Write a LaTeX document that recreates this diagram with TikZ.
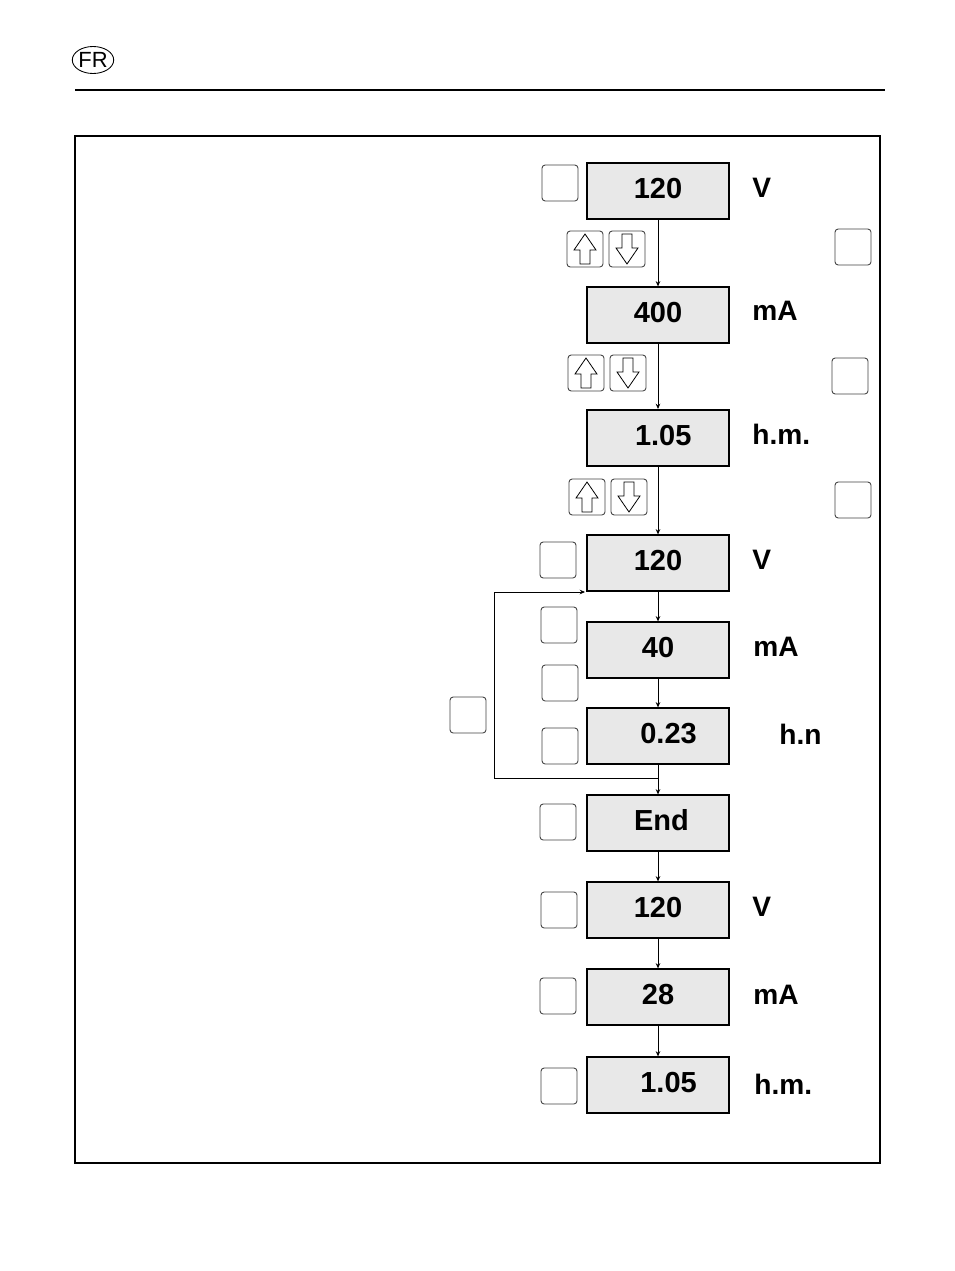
\documentclass[tikz,border=0pt]{standalone}
\usepackage{fontspec}
\setmainfont{Liberation Sans}
\usetikzlibrary{arrows.meta, positioning, shapes.geometric}
\definecolor{lcdgray}{HTML}{E8E8E8}
\tikzset{
  disp/.style={draw, fill=lcdgray, line width=0.7pt, minimum width=2.84cm, minimum height=1.12cm, inner sep=0pt, text height=11.5pt, text depth=2.5pt, font=\fontsize{16.5}{16.5}\selectfont\bfseries},
  unit/.style={anchor=west, inner sep=0pt, font=\fontsize{16}{16}\selectfont\bfseries},
  btn/.style={draw=black!75, rounded corners=1.8pt, line width=0.5pt, minimum size=0.72cm, inner sep=0pt},
  flow/.style={line width=0.45pt, -{Stealth[length=3pt, width=2.6pt]}},
  upkey/.pic={
    \node[btn] (-box) {};
    \draw[line width=0.45pt] (0,-15) -- (11,1) -- (5,1) -- (5,15) -- (-5,15) -- (-5,1) -- (-11,1) -- cycle;
  },
  downkey/.pic={
    \node[btn] (-box) {};
    \draw[line width=0.45pt] (0,15) -- (11,-1) -- (5,-1) -- (5,-15) -- (-5,-15) -- (-5,-1) -- (-11,-1) -- cycle;
  }
}
\begin{document}
\begin{tikzpicture}[x=0.02cm, y=-0.02cm]
  \useasboundingbox (0,0) rectangle (954,1271);
  % header
  \node[draw, ellipse, minimum width=0.74cm, minimum height=0.54cm, inner sep=0pt, line width=0.5pt, font=\fontsize{12.5}{12.5}\selectfont] (lang) at (93,60) {FR};
  \draw[line width=0.6pt] (75,90) -- (885,90);
  \draw[line width=0.8pt] (75,136) rectangle (880,1163);

  % displays
  \node[disp] (d1) at (658,191) {120};
  \node[disp] (d2) at (658,315) {400};
  \node[disp, line width=1.2pt] (d3) at (658,438) {\hspace{6pt}1.05};
  \node[disp] (d4) at (658,563) {120};
  \node[disp] (d5) at (658,650) {40};
  \node[disp] (d6) at (658,736) {\hspace{12pt}0.23};
  \node[disp] (d7) at (658,823) {\hspace{4pt}End};
  \node[disp] (d8) at (658,910) {120};
  \node[disp] (d9) at (658,997) {28};
  \node[disp] (d10) at (658,1085) {\hspace{12pt}1.05};

  % units
  \node[unit] (u1) at (752,188) {V};
  \node[unit] (u2) at (752,311) {mA};
  \node[unit] (u3) at (752,434) {h.m.};
  \node[unit] (u4) at (752,560) {V};
  \node[unit] (u5) at (753,647) {mA};
  \node[unit] (u6) at (779,734) {h.n};
  \node[unit] (u8) at (752,907) {V};
  \node[unit] (u9) at (753,995) {mA};
  \node[unit] (u10) at (754,1084) {h.m.};

  % buttons
  \foreach \n/\x/\y in {b1/560/183, b2/853/247, b3/850/376, b4/853/500,
                        b5/558/560, b6/559/625, b7/560/683, b8/468/715,
                        b9/560/746, b10/558/822, b11/559/910, b12/558/996, b13/559/1086}
    \node[btn] (\n) at (\x,\y) {};

  % arrow keys
  \pic (up1) at (585,249) {upkey};
  \pic (dn1) at (627,249) {downkey};
  \pic (up2) at (586,373) {upkey};
  \pic (dn2) at (628,373) {downkey};
  \pic (up3) at (587,497) {upkey};
  \pic (dn3) at (629,497) {downkey};

  % flow
  \foreach \a/\b in {d1/d2, d2/d3, d3/d4, d4/d5, d5/d6, d6/d7, d7/d8, d8/d9, d9/d10}
    \draw[flow] (\a.south) -- (\b.north);

  % loop back
  \coordinate (lp0) at (658,778);
  \coordinate (lp1) at (494,778);
  \coordinate (lp2) at (494,592);
  \coordinate (lp3) at (585,592);
  \draw[line width=0.45pt] (lp0) -- (lp1) -- (lp2);
  \draw[flow] (lp2) -- (lp3);
\end{tikzpicture}
\end{document}
